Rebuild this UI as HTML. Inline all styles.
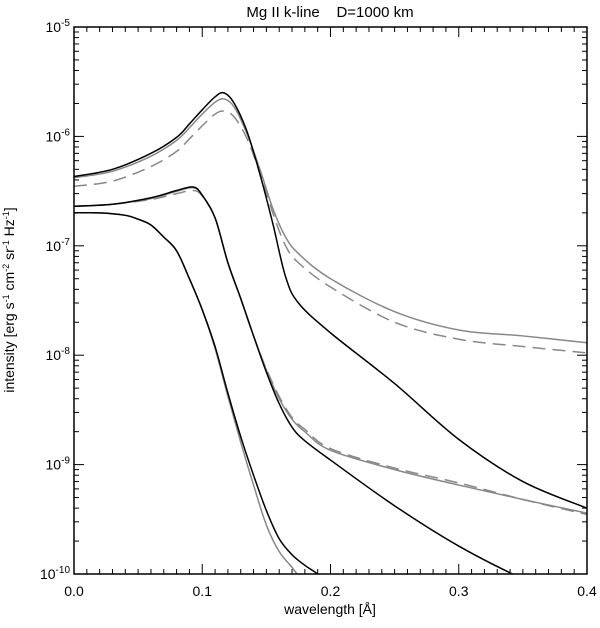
<!DOCTYPE html>
<html><head><meta charset="utf-8"><style>
html,body{margin:0;padding:0;background:#fff;}
svg text{font-family:"Liberation Sans",sans-serif;fill:#000;}
</style></head><body>
<svg id="chart" width="600" height="623" viewBox="0 0 600 623" xmlns="http://www.w3.org/2000/svg">
<defs><clipPath id="clip"><rect x="74" y="27" width="513" height="547"/></clipPath></defs>
<text x="330" y="17" font-size="15" text-anchor="middle" xml:space="preserve">Mg II k-line    D=1000 km</text>
<text x="330" y="614" font-size="14" text-anchor="middle">wavelength [Å]</text>
<text transform="translate(14,300) rotate(-90)" font-size="14" text-anchor="middle">intensity [erg s<tspan dy="-5" font-size="9">-1</tspan><tspan dy="5"> cm</tspan><tspan dy="-5" font-size="9">-2</tspan><tspan dy="5"> sr</tspan><tspan dy="-5" font-size="9">-1</tspan><tspan dy="5"> Hz</tspan><tspan dy="-5" font-size="9">-1</tspan><tspan dy="5">]</tspan></text>
<g id="axes"></g>
<g id="series" clip-path="url(#clip)"></g>
<rect x="74" y="27" width="513" height="547" fill="none" stroke="#000" stroke-width="1.5"/>
</svg>
<script>
const xTicks = [0.0, 0.1, 0.2, 0.3, 0.4];
const xTickLabels = ["0.0", "0.1", "0.2", "0.3", "0.4"];
const yDecades = [-5, -6, -7, -8, -9, -10];

const xA = [0, 0.03, 0.06, 0.08, 0.09, 0.1, 0.11, 0.117, 0.125, 0.135, 0.145, 0.155, 0.165, 0.175, 0.2, 0.25, 0.3, 0.35, 0.4];
const blackA = [4.3e-7, 5.0e-7, 7.0e-7, 9.8e-7, 1.3e-6, 1.75e-6, 2.3e-6, 2.5e-6, 2.0e-6, 1.1e-6, 4.5e-7, 1.6e-7, 5.2e-8, 3.0e-8, 1.6e-8, 5.5e-9, 1.7e-9, 7e-10, 4.0e-10];
const grayA = [4.2e-7, 4.8e-7, 6.6e-7, 9.2e-7, 1.2e-6, 1.6e-6, 2.05e-6, 2.2e-6, 1.85e-6, 1.05e-6, 5e-7, 2.2e-7, 1.2e-7, 8.5e-8, 5e-8, 2.5e-8, 1.7e-8, 1.5e-8, 1.3e-8];
const dashA = [3.5e-7, 3.9e-7, 5.3e-7, 7.3e-7, 9.5e-7, 1.25e-6, 1.6e-6, 1.7e-6, 1.5e-6, 9.5e-7, 4.6e-7, 2.0e-7, 1.0e-7, 7e-8, 4.2e-8, 2.0e-8, 1.4e-8, 1.2e-8, 1.05e-8];

const xB = [0, 0.03, 0.06, 0.08, 0.093, 0.1, 0.11, 0.12, 0.13, 0.14, 0.15, 0.16, 0.17, 0.18, 0.2, 0.25, 0.3, 0.35, 0.4];
const blackB = [2.3e-7, 2.4e-7, 2.75e-7, 3.2e-7, 3.45e-7, 2.9e-7, 1.8e-7, 7e-8, 3.3e-8, 1.5e-8, 7e-9, 3.6e-9, 2.2e-9, 1.65e-9, 1.1e-9, 4.2e-10, 1.8e-10, 9e-11, 5e-11];
const grayB = [2.3e-7, 2.4e-7, 2.7e-7, 3.15e-7, 3.4e-7, 2.9e-7, 1.8e-7, 7e-8, 3.3e-8, 1.5e-8, 7.3e-9, 4e-9, 2.6e-9, 2.0e-9, 1.35e-9, 9e-10, 6.5e-10, 4.8e-10, 3.6e-10];
const dashB = [2.3e-7, 2.4e-7, 2.65e-7, 3.0e-7, 3.2e-7, 2.85e-7, 1.8e-7, 7e-8, 3.3e-8, 1.5e-8, 7.5e-9, 4.2e-9, 2.7e-9, 2.1e-9, 1.4e-9, 9.3e-10, 6.8e-10, 4.8e-10, 3.5e-10];

const xC = [0, 0.02, 0.04, 0.05, 0.06, 0.07, 0.08, 0.09, 0.1, 0.11, 0.12, 0.13, 0.14, 0.15, 0.16, 0.17, 0.18, 0.19, 0.2];
const blackC = [2.0e-7, 2.0e-7, 1.9e-7, 1.75e-7, 1.55e-7, 1.2e-7, 9e-8, 5e-8, 2.6e-8, 1.2e-8, 4.5e-9, 1.8e-9, 8e-10, 3.8e-10, 2.1e-10, 1.5e-10, 1.2e-10, 1.0e-10, 8e-11];
const grayC = [2.0e-7, 2.0e-7, 1.9e-7, 1.75e-7, 1.55e-7, 1.2e-7, 9e-8, 5e-8, 2.6e-8, 1.15e-8, 4.2e-9, 1.6e-9, 6.5e-10, 2.8e-10, 1.6e-10, 1.15e-10, 8e-11, 6e-11, 5e-11];

const L=74,R=587,T=27,B=574;
const xs = v => L + (v-0)/(0.4-0)*(R-L);
const ys = v => T + (-5 - Math.log10(v))/5*(B-T);
const NS="http://www.w3.org/2000/svg";
const axes=document.getElementById('axes'), series=document.getElementById('series');
function mk(tag, attrs, parent){const e=document.createElementNS(NS,tag);for(const k in attrs)e.setAttribute(k,attrs[k]);parent.appendChild(e);return e;}

for(let i=0;i<=40;i++){
  const v=i*0.01, x=xs(v), len=(i%10===0)?10:5;
  const t1=mk('line',{x1:x,x2:x,y1:B,y2:B-len,stroke:'#000','stroke-width':1},axes);
  
  
  const t2=mk('line',{x1:x,x2:x,y1:T,y2:T+len,stroke:'#000','stroke-width':1},axes);
  
  
}
xTicks.forEach((v,i)=>{
  const t=mk('text',{x:xs(v),y:B+22,'font-size':14,'text-anchor':'middle'},axes);
  t.textContent=xTickLabels[i];
  
  
});
for(let d=-10;d<-5;d++){
  for(let m=1;m<10;m++){
    const y=ys(m*Math.pow(10,d)), len=(m===1)?10:5;
    const a=mk('line',{x1:L,x2:L+len,y1:y,y2:y,stroke:'#000','stroke-width':1},axes);
    
    
    const b=mk('line',{x1:R,x2:R-len,y1:y,y2:y,stroke:'#000','stroke-width':1},axes);
    
    
  }
}
yDecades.forEach(d=>{
  const y=ys(Math.pow(10,d));
  const t=mk('text',{x:L-4,y:y+5,'font-size':14,'text-anchor':'end'},axes);
  t.innerHTML='10<tspan dy="-6" font-size="10">'+d+'</tspan>';
  
  
});

function pathFor(xa, ya){
  const p=xa.map((v,i)=>[xs(v),ys(ya[i])]);
  let d='M'+p[0][0]+','+p[0][1];
  for(let i=0;i<p.length-1;i++){
    const p0=p[Math.max(0,i-1)],p1=p[i],p2=p[i+1],p3=p[Math.min(p.length-1,i+2)];
    const c1=[p1[0]+(p2[0]-p0[0])/6,p1[1]+(p2[1]-p0[1])/6];
    const c2=[p2[0]-(p3[0]-p1[0])/6,p2[1]-(p3[1]-p1[1])/6];
    d+=' C'+c1+' '+c2+' '+p2;
  }
  return d;
}
function draw(xa, ya, color, dash, name){
  const attrs={d:pathFor(xa,ya),fill:'none',stroke:color,'stroke-width':1.5};
  if(dash) attrs['stroke-dasharray']='13,7';
  const e=mk('path',attrs,series);
  
  
}
draw(xA,dashA,'#888',true,'series-a-dashed');
draw(xA,grayA,'#888',false,'series-a-gray');
draw(xA,blackA,'#000',false,'series-a-black');
draw(xB,dashB,'#888',true,'series-b-dashed');
draw(xB,grayB,'#888',false,'series-b-gray');
draw(xB,blackB,'#000',false,'series-b-black');
draw(xC,grayC,'#888',false,'series-c-gray');
draw(xC,blackC,'#000',false,'series-c-black');
</script>
</body></html>
